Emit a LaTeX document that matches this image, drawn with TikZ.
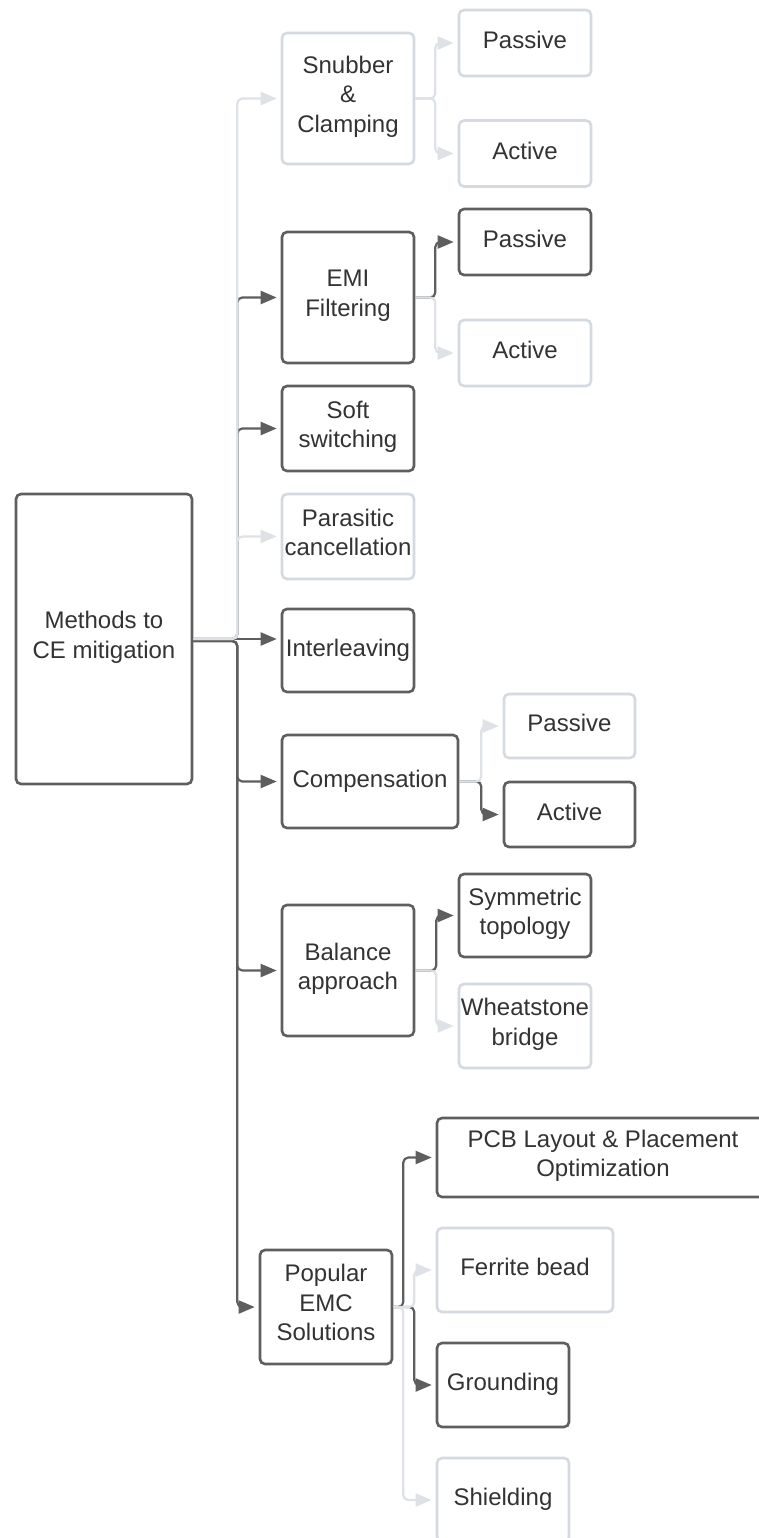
\documentclass[tikz,border=0pt]{standalone}
\usepackage{fontspec}
\setmainfont{Liberation Sans}
\usetikzlibrary{arrows.meta}
\definecolor{dk}{HTML}{5E5E5E}
\definecolor{lt}{HTML}{D5DAE1}
\definecolor{ltc}{HTML}{DEE2E7}
\definecolor{txt}{HTML}{333333}
\begin{document}
\begin{tikzpicture}[x=1pt,y=-1pt,
  box/.style={rectangle, rounded corners=5pt, line width=2.6pt, inner sep=0pt, text=txt, align=center,
    font=\fontsize{24}{29.5}\selectfont, fill=white,
    execute at begin node=\strut, execute at end node=\strut},
  dkbox/.style={box, draw=dk},
  ltbox/.style={box, draw=lt},
  dkline/.style={draw=dk, line width=2.2pt, rounded corners=5pt, -{Triangle[length=16pt,width=13pt]}, shorten >=4pt},
  ltline/.style={draw=ltc, line width=2.2pt, rounded corners=5pt, -{Triangle[length=16pt,width=13pt]}, shorten >=4pt},
]
\useasboundingbox (0,0) rectangle (759,1538);
\fill[white] (0,0) rectangle (759,1538);

% root
\node[dkbox, minimum width=176, minimum height=290] (main) at (104,639) {Methods to\\CE mitigation};

% level 1
\node[ltbox, minimum width=132, minimum height=131] (snub) at (348,98.5) {Snubber\\\&\\Clamping};
\node[dkbox, minimum width=132, minimum height=131] (emi) at (348,297.5) {EMI\\Filtering};
\node[dkbox, minimum width=132, minimum height=85] (soft) at (348,428.5) {Soft\\switching};
\node[ltbox, minimum width=132, minimum height=85] (para) at (348,536.5) {Parasitic\\cancellation};
\node[dkbox, minimum width=132, minimum height=83] (inter) at (348,650.5) {Interleaving};
\node[dkbox, minimum width=176, minimum height=93] (comp) at (370,781.5) {Compensation};
\node[dkbox, minimum width=132, minimum height=131] (bal) at (348,970.5) {Balance\\approach};
\node[dkbox, minimum width=132, minimum height=114] (pop) at (326,1307) {Popular\\EMC\\Solutions};

% level 2
\node[ltbox, minimum width=132, minimum height=66] (sp) at (525,43) {Passive};
\node[ltbox, minimum width=132, minimum height=66] (sa) at (525,153.5) {Active};
\node[dkbox, minimum width=132, minimum height=66] (ep) at (525,242) {Passive};
\node[ltbox, minimum width=132, minimum height=66] (ea) at (525,353) {Active};
\node[ltbox, minimum width=131, minimum height=64] (cp) at (569.5,726) {Passive};
\node[dkbox, minimum width=131, minimum height=65] (ca) at (569.5,814.5) {Active};
\node[dkbox, minimum width=132, minimum height=83] (sym) at (525,915.5) {Symmetric\\topology};
\node[ltbox, minimum width=132, minimum height=84] (wh) at (525,1026) {Wheatstone\\bridge};
\node[dkbox, minimum width=332, minimum height=79] (pcb) at (603,1157.5) {PCB Layout \& Placement\\Optimization};
\node[ltbox, minimum width=176, minimum height=84] (fb) at (525,1270) {Ferrite bead};
\node[dkbox, minimum width=132, minimum height=84] (gr) at (503,1385) {Grounding};
\node[ltbox, minimum width=132, minimum height=84] (sh) at (503,1500) {Shielding};

% dark connectors
\draw[dkline] (main.east) -- ++(44,0) |- (emi.west);
\draw[dkline] (main.east) -- ++(44,0) |- (soft.west);
\draw[dkline] (main.east) -- (main.east -| inter.west);
\draw[dkline] ([yshift=-2pt]main.east) -- ++(44,0) |- (comp.west);
\draw[dkline] ([yshift=-2pt]main.east) -- ++(44,0) |- (bal.west);
\draw[dkline] ([yshift=-2pt]main.east) -- ++(44,0) |- (pop.west);
\draw[dkline] (emi.east) -- ++(20,0) |- (ep.west);
\draw[dkline] (comp.east) -- ++(22,0) |- (ca.west);
\draw[dkline] (bal.east) -- ++(21,0) |- (sym.west);
\draw[dkline] (pop.east) -- ++(10,0) |- (pcb.west);
\draw[dkline] (pop.east) -- ++(21,0) |- (gr.west);

% light connectors
\draw[ltline] (main.east) -- ++(44,0) |- (snub.west);
\draw[ltline] (main.east) -- ++(44,0) |- (para.west);
\draw[ltline] (snub.east) -- ++(20,0) |- (sp.west);
\draw[ltline] (snub.east) -- ++(20,0) |- (sa.west);
\draw[ltline] (emi.east) -- ++(20,0) |- (ea.west);
\draw[ltline] (comp.east) -- ++(22,0) |- (cp.west);
\draw[ltline] (bal.east) -- ++(21,0) |- (wh.west);
\draw[ltline] (pop.east) -- ++(21,0) |- (fb.west);
\draw[ltline] (pop.east) -- ++(10,0) |- (sh.west);
\end{tikzpicture}
\end{document}
